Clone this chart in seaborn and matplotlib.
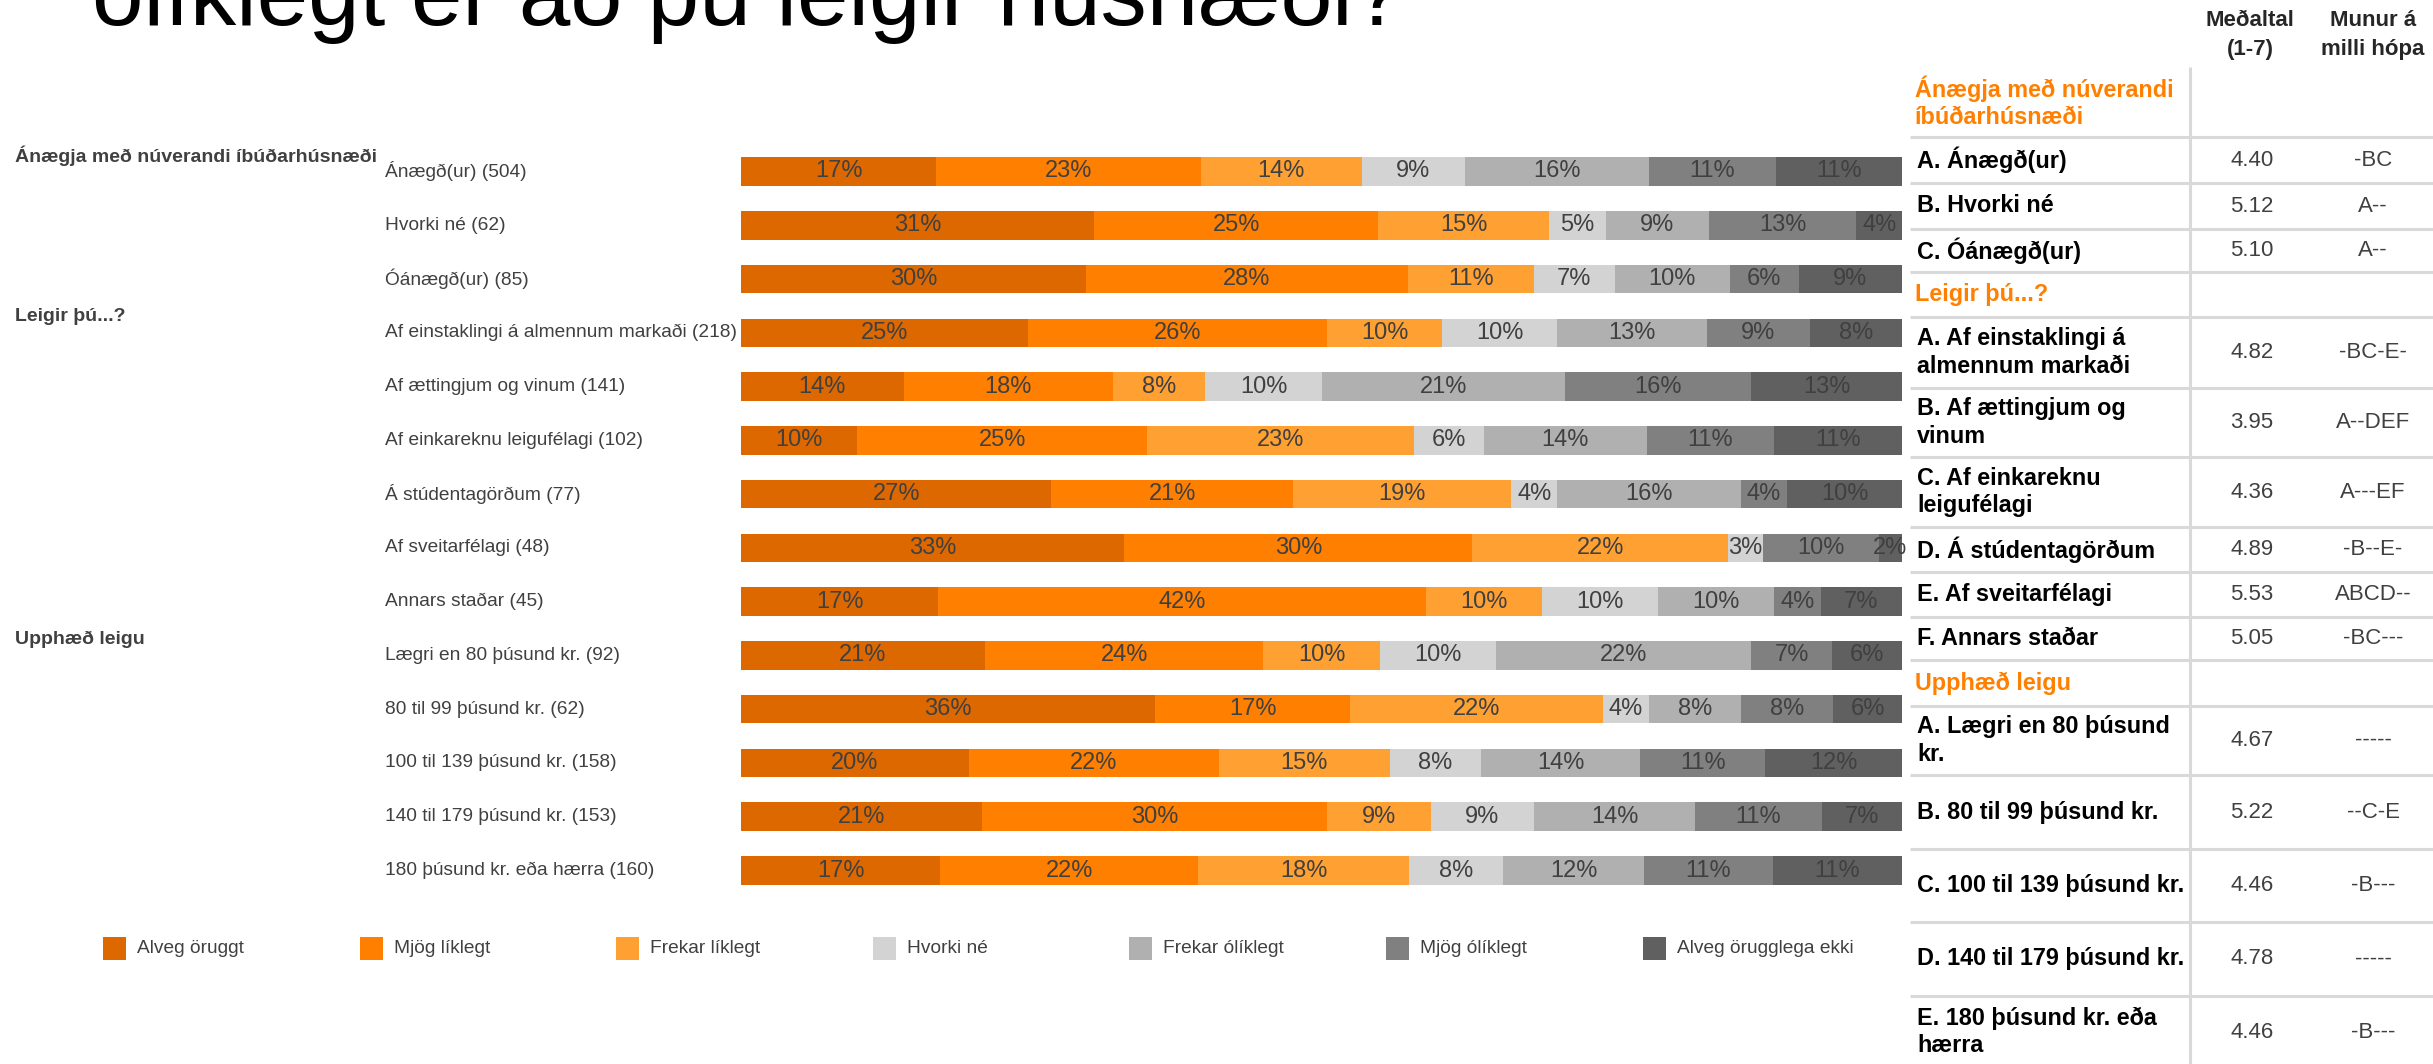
import numpy as np
import pandas as pd
import matplotlib
matplotlib.use("Agg")
import matplotlib.pyplot as plt
import matplotlib.transforms as mtrans
from matplotlib.patches import Rectangle
import seaborn as sns

# rows of the stacked bar chart
rows = ["Ánægð(ur) (504)", "Hvorki né (62)", "Óánægð(ur) (85)",
        "Af einstaklingi á almennum markaði (218)", "Af ættingjum og vinum (141)",
        "Af einkareknu leigufélagi (102)", "Á stúdentagörðum (77)",
        "Af sveitarfélagi (48)", "Annars staðar (45)",
        "Lægri en 80 þúsund kr. (92)", "80 til 99 þúsund kr. (62)",
        "100 til 139 þúsund kr. (158)", "140 til 179 þúsund kr. (153)",
        "180 þúsund kr. eða hærra (160)"]
groups = ["Ánægja með núverandi íbúðarhúsnæði", "Leigir þú...?", "Upphæð leigu"]
group_start = [0, 3, 9]

categories = ["Alveg öruggt", "Mjög líklegt", "Frekar líklegt", "Hvorki né",
              "Frekar ólíklegt", "Mjög ólíklegt", "Alveg örugglega ekki"]
colors = ["#DE6800", "#FF8000", "#FFA033", "#D3D3D3", "#B0B0B0", "#808080", "#606060"]

alveg_oruggt = [17, 31, 30, 25, 14, 10, 27, 33, 17, 21, 36, 20, 21, 17]
mjog_liklegt = [23, 25, 28, 26, 18, 25, 21, 30, 42, 24, 17, 22, 30, 22]
frekar_liklegt = [14, 15, 11, 10, 8, 23, 19, 22, 10, 10, 22, 15, 9, 18]
hvorki_ne = [9, 5, 7, 10, 10, 6, 4, 3, 10, 10, 4, 8, 9, 8]
frekar_oliklegt = [16, 9, 10, 13, 21, 14, 16, 0, 10, 22, 8, 14, 14, 12]
mjog_oliklegt = [11, 13, 6, 9, 16, 11, 4, 10, 4, 7, 8, 11, 11, 11]
alveg_ekki = [11, 4, 9, 8, 13, 11, 10, 2, 7, 6, 6, 12, 7, 11]

# table on the right
table_labels = ["A. Ánægð(ur)", "B. Hvorki né", "C. Óánægð(ur)",
                "A. Af einstaklingi á\nalmennum markaði", "B. Af ættingjum og\nvinum",
                "C. Af einkareknu\nleigufélagi", "D. Á stúdentagörðum",
                "E. Af sveitarfélagi", "F. Annars staðar",
                "A. Lægri en 80 þúsund\nkr.", "B. 80 til 99 þúsund kr.",
                "C. 100 til 139 þúsund kr.", "D. 140 til 179 þúsund kr.",
                "E. 180 þúsund kr. eða\nhærra"]
table_groups = ["Ánægja með núverandi\níbúðarhúsnæði", "Leigir þú...?", "Upphæð leigu"]
means = [4.40, 5.12, 5.10, 4.82, 3.95, 4.36, 4.89, 5.53, 5.05, 4.67, 5.22, 4.46, 4.78, 4.46]
diffs = ["-BC", "A--", "A--", "-BC-E-", "A--DEF", "A---EF", "-B--E-", "ABCD--", "-BC---",
         "-----", "--C-E", "-B---", "-----", "-B---"]

sns.set_style("white")
plt.rcParams["font.family"] = ["Liberation Sans", "DejaVu Sans"]

W, H = 2433, 1064
fig = plt.figure(figsize=(W / 100, H / 100), dpi=100)

vals = np.array([alveg_oruggt, mjog_liklegt, frekar_liklegt, hvorki_ne,
                 frekar_oliklegt, mjog_oliklegt, alveg_ekki]).T
share = vals / vals.sum(axis=1, keepdims=True) * 100
cum = share.cumsum(axis=1)

ax = fig.add_axes([741 / W, 1 - 897.4 / H, 1161 / W, 752.8 / H])
for k in range(6, -1, -1):
    d = pd.DataFrame({"row": rows, "cum": cum[:, k]})
    sns.barplot(data=d, x="cum", y="row", color=colors[k], saturation=1,
                width=0.53, orient="h", errorbar=None, linewidth=0, ax=ax)
ax.set_xlim(0, 100)
ax.set_ylim(13.5, -0.5)
ax.axis("off")

for i in range(len(rows)):
    for k in range(7):
        if vals[i, k] > 0:
            ax.text(cum[i, k] - share[i, k] / 2, i, f"{vals[i, k]}%", ha="center",
                    va="center", fontsize=17, color="#404040")

trans = mtrans.blended_transform_factory(fig.transFigure, ax.transData)
for i, r in enumerate(rows):
    ax.text(385 / W, i, r, transform=trans, ha="left", va="center",
            fontsize=13.8, color="#404040")
for g, s in zip(groups, group_start):
    ax.text(15 / W, s - 0.3, g, transform=trans, ha="left", va="center",
            fontsize=14, fontweight="bold", color="#404040")

# overlay in pixel coordinates
axo = fig.add_axes([0, 0, 1, 1])
axo.set_xlim(0, W)
axo.set_ylim(H, 0)
axo.axis("off")

axo.text(92, 25, "ólíklegt er að þú leigir húsnæði?", fontsize=66.7,
         va="baseline", ha="left", color="black")

# legend
for i, (cat, col) in enumerate(zip(categories, colors)):
    x0 = 103 + 256.6 * i
    axo.add_patch(Rectangle((x0, 937), 23, 23, color=col, lw=0))
    axo.text(x0 + 34, 948.5, cat, va="center", ha="left", fontsize=13.8, color="#404040")

# table
axo.text(2250, 20, "Meðaltal", ha="center", va="center", fontsize=16, fontweight="bold")
axo.text(2250, 49, "(1-7)", ha="center", va="center", fontsize=16, fontweight="bold")
axo.text(2373, 20, "Munur á", ha="center", va="center", fontsize=16, fontweight="bold")
axo.text(2373, 49, "milli hópa", ha="center", va="center", fontsize=16, fontweight="bold")

bounds = [67, 137, 183, 229, 272, 317, 388, 457, 527, 572, 617, 660, 706, 775, 849,
          922, 996, 1068]
line_col = "#D9D9D9"
for b in bounds[1:-1]:
    axo.plot([1910, W], [b, b], color=line_col, lw=2.2, solid_capstyle="butt")
axo.plot([2190, 2190], [67, H], color=line_col, lw=2.2, solid_capstyle="butt")

slot = 0
item = 0
for gi, g in enumerate(table_groups):
    yc = (bounds[slot] + bounds[slot + 1]) / 2
    axo.text(1915, yc, g, ha="left", va="center", fontsize=16.8, fontweight="bold",
             color="#FF8000", linespacing=1.25)
    slot += 1
    n = group_start[gi + 1] - group_start[gi] if gi < 2 else len(rows) - group_start[gi]
    for _ in range(n):
        yc = (bounds[slot] + bounds[slot + 1]) / 2
        axo.text(1917, yc, table_labels[item], ha="left", va="center", fontsize=16.8,
                 fontweight="bold", color="black", linespacing=1.25)
        axo.text(2252, yc, f"{means[item]:.2f}", ha="center", va="center",
                 fontsize=16, color="#404040")
        axo.text(2373, yc, diffs[item], ha="center", va="center",
                 fontsize=16, color="#404040")
        slot += 1
        item += 1

fig.savefig("out.png", dpi=100)
